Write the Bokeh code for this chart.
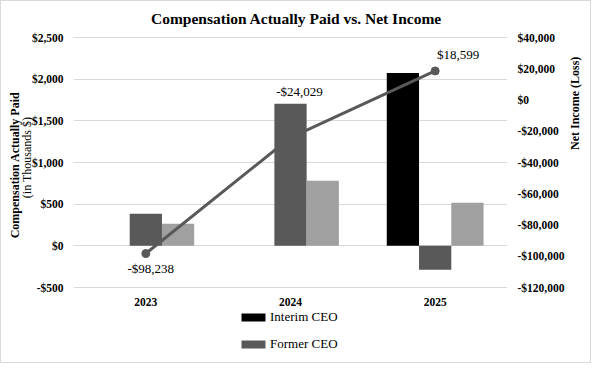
from math import pi
from bokeh.plotting import figure
from bokeh.models import (Range1d, LinearAxis, FixedTicker, NumeralTickFormatter,
                          Legend, LegendItem, ColumnDataSource, Label)
from bokeh.transform import dodge
from bokeh.core.properties import value
from bokeh.embed import file_html
from bokeh.resources import INLINE

# ---- data ----
years = ["2023", "2024", "2025"]
interim_ceo = [0, 0, 2075]          # thousands $
former_ceo = [384, 1704, -288]      # thousands $
other_ceo = [265, 780, 516]         # thousands $
net_income = [-98238, -24029, 18599]
net_income_labels = ["-$98,238", "-$24,029", "$18,599"]
left_ticks = [-500, 0, 500, 1000, 1500, 2000, 2500]
right_ticks = [-120000, -100000, -80000, -60000, -40000, -20000, 0, 20000, 40000]

SERIF = "Liberation Serif"
DARK = "#595959"
LIGHT = "#a0a0a0"
NB = "\u00a0"

# layout (pixels): the frame spans the full height; value area is 250px tall
W, H = 591, 363
PX_TOP, PX_BOTTOM, PX_PLOT = 36, 77, 250
l_lo, l_hi = left_ticks[0], left_ticks[-1]
r_lo, r_hi = right_ticks[0], right_ticks[-1]
l_pp = (l_hi - l_lo) / PX_PLOT
r_pp = (r_hi - r_lo) / PX_PLOT

p = figure(width=W, height=H, x_range=years,
           y_range=Range1d(l_lo - PX_BOTTOM * l_pp, l_hi + PX_TOP * l_pp),
           output_backend="svg", toolbar_location=None,
           min_border_left=72, min_border_right=82, min_border_top=0, min_border_bottom=0)
p.styles = {"border": "1px solid #d9d9d9"}
p.outline_line_color = None
p.xgrid.grid_line_color = None
p.ygrid.grid_line_color = "#d9d9d9"
p.ygrid.grid_line_width = 1
p.extra_y_ranges = {"ni": Range1d(r_lo - PX_BOTTOM * r_pp, r_hi + PX_TOP * r_pp)}
p.xaxis.visible = False

src = ColumnDataSource(dict(x=years, interim=interim_ceo, former=former_ceo, other=other_ceo,
                            ni=net_income, lab=net_income_labels,
                            dx=[5, 9, 23], dy=[15, -46, -16]))

bw = 0.223
r_int = p.vbar(x=dodge("x", -bw, range=p.x_range), top="interim", width=bw, source=src,
               fill_color="#000000", line_color=None)
r_for = p.vbar(x=dodge("x", 0, range=p.x_range), top="former", width=bw, source=src,
               fill_color=DARK, line_color=None)
r_oth = p.vbar(x=dodge("x", bw, range=p.x_range), top="other", width=bw, source=src,
               fill_color=LIGHT, line_color=None)

p.line("x", "ni", source=src, y_range_name="ni", line_color=DARK, line_width=3)
p.scatter("x", "ni", source=src, y_range_name="ni", size=8, fill_color=DARK, line_color=DARK)
p.text("x", "ni", text="lab", source=src, y_range_name="ni", x_offset="dx", y_offset="dy",
       text_align="center", text_baseline="middle", text_font=value(SERIF),
       text_font_size="13px", text_color="#000000")

# category labels under the value area
p.text(x=years, y=[l_lo] * len(years), text=years, y_offset=14,
       text_align="center", text_baseline="middle", text_font=value(SERIF),
       text_font_style="bold", text_font_size="11.5px", text_color="#000000")

# axes
ax_l = p.yaxis[0]
ax_l.ticker = FixedTicker(ticks=left_ticks)
ax_l.formatter = NumeralTickFormatter(format="$0,0")
ax_l.axis_label = NB * 17 + "(in Thousands $)"
ax_l.axis_label_standoff = -5
ax_r = LinearAxis(y_range_name="ni", ticker=FixedTicker(ticks=right_ticks),
                  formatter=NumeralTickFormatter(format="$0,0"),
                  axis_label=NB * 11 + "Net Income (Loss)", axis_label_standoff=8,
                  axis_label_orientation=pi / 2)
p.add_layout(ax_r, "right")
ax_l2 = LinearAxis(ticker=FixedTicker(ticks=[0]), major_label_overrides={0: ""},
                   axis_label=NB * 12 + "Compensation Actually Paid", axis_label_standoff=-5)
p.add_layout(ax_l2, "left")

for ax in (ax_l, ax_r, ax_l2):
    ax.axis_line_color = None
    ax.major_tick_line_color = None
    ax.minor_tick_line_color = None
    ax.major_tick_in = 0
    ax.major_tick_out = 0
    ax.minor_tick_in = 0
    ax.minor_tick_out = 0
    ax.major_label_text_font = SERIF
    ax.major_label_text_font_style = "bold"
    ax.major_label_text_font_size = "11.5px"
    ax.major_label_text_color = "#000000"
    ax.major_label_standoff = 10
    ax.axis_label_text_font = SERIF
    ax.axis_label_text_font_size = "12px"
    ax.axis_label_text_color = "#000000"
    ax.axis_label_text_font_style = "bold"
ax_l.axis_label_text_font_style = "normal"
ax_l2.major_label_standoff = 0

# title inside the frame (frame spans full height)
p.add_layout(Label(x=223, y=346, x_units="screen", y_units="screen",
                   text="Compensation Actually Paid vs. Net Income", text_align="center",
                   text_baseline="middle", text_font=SERIF, text_font_style="bold",
                   text_font_size="15.5px", text_color="#000000"))

legend = Legend(items=[LegendItem(label="Interim CEO", renderers=[r_int]),
                       LegendItem(label="Former CEO", renderers=[r_for])],
                location=(165, 12), orientation="vertical",
                glyph_width=30, glyph_height=10, label_height=14, label_standoff=2, spacing=11,
                padding=2, margin=0, border_line_color=None, background_fill_alpha=0)
legend.label_text_font = SERIF
legend.label_text_font_size = "13px"
legend.label_text_color = "#000000"
p.add_layout(legend)

open("out.html", "w").write(file_html(p, INLINE))
